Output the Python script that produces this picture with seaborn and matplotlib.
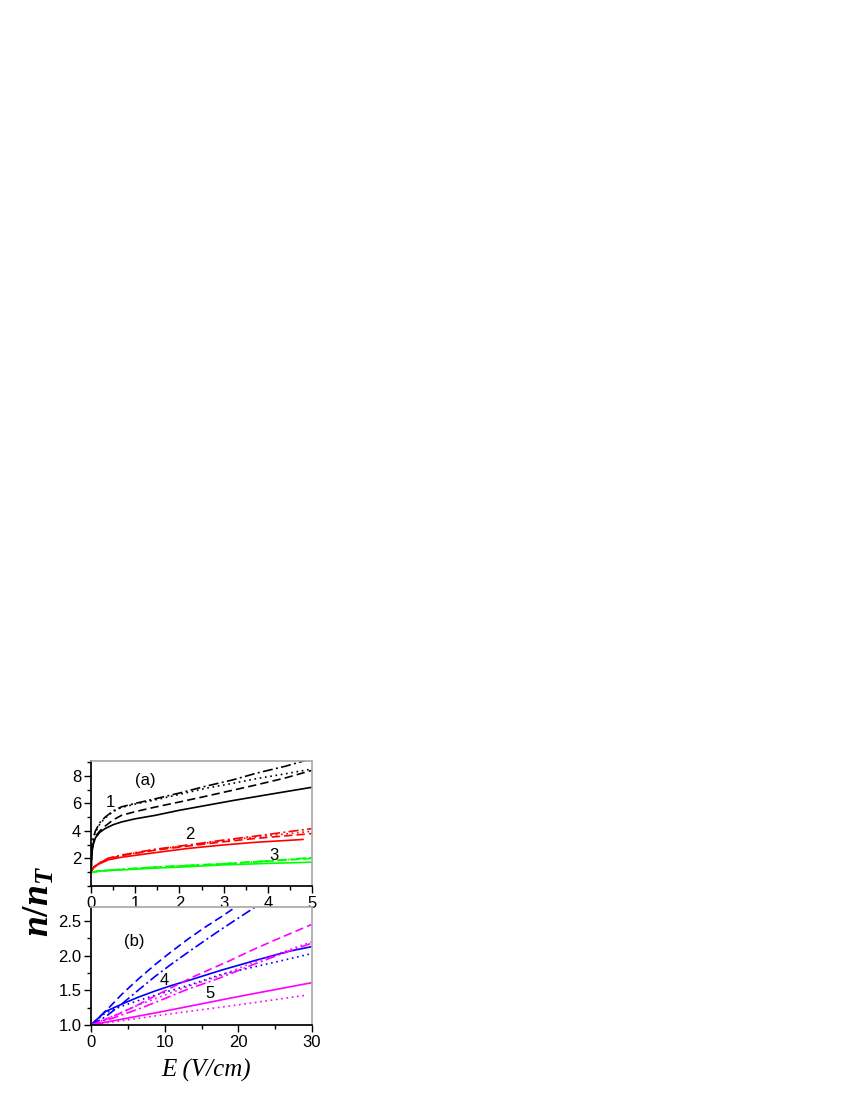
import matplotlib

matplotlib.use("Agg")
import matplotlib.pyplot as plt
import seaborn as sns
from matplotlib.ticker import MultipleLocator

# ---- panel (a): n/n_T vs E, E in 0..5 V/cm ----
a_black_x = [0, 0.02, 0.05, 0.1, 0.2, 0.32, 0.5, 0.69, 1, 1.45, 2, 2.6, 3.2, 3.75, 4.4, 5]
a_black_solid = [1.0, 2.4, 3.0, 3.5, 3.9, 4.17, 4.45, 4.65, 4.88, 5.13, 5.5, 5.85, 6.2, 6.5, 6.85, 7.17]
a_black_dash = [1.0, 2.5, 3.1, 3.6, 4.0, 4.35, 4.8, 5.13, 5.4, 5.73, 6.1, 6.52, 6.95, 7.35, 7.85, 8.4]
a_black_dot = [1.0, 2.7, 3.4, 3.9, 4.5, 4.95, 5.4, 5.7, 5.95, 6.25, 6.65, 7.1, 7.45, 7.8, 8.15, 8.5]
a_black_dashdot = [1.0, 2.8, 3.5, 4.0, 4.6, 5.0, 5.45, 5.75, 6.0, 6.33, 6.75, 7.25, 7.7, 8.2, 8.7, 9.25]

a_red_x = [0, 0.05, 0.17, 0.39, 0.69, 1.45, 2.2, 2.96, 3.71, 4.8]
a_red_solid = [1.0, 1.3, 1.58, 1.9, 2.09, 2.42, 2.73, 2.97, 3.17, 3.38]
a_red2_x = [0, 0.05, 0.17, 0.39, 0.69, 1.45, 2.2, 2.96, 3.71, 5]
a_red_dash = [1.0, 1.32, 1.62, 1.98, 2.2, 2.6, 2.9, 3.2, 3.45, 3.81]
a_red_dot = [1.0, 1.33, 1.64, 2.0, 2.23, 2.64, 2.95, 3.27, 3.55, 3.98]
a_red_dashdot = [1.0, 1.34, 1.65, 2.02, 2.25, 2.67, 2.98, 3.32, 3.62, 4.17]

a_green_x = [0, 0.2, 0.5, 1, 1.45, 2, 2.96, 4, 5]
a_green_solid = [1.0, 1.08, 1.14, 1.22, 1.3, 1.37, 1.53, 1.64, 1.73]
a_green_dash = [1.0, 1.09, 1.16, 1.27, 1.36, 1.45, 1.6, 1.8, 2.0]
a_green_dot = [1.0, 1.09, 1.16, 1.27, 1.36, 1.46, 1.6, 1.81, 2.03]
a_green_dashdot = [1.0, 1.1, 1.17, 1.28, 1.37, 1.47, 1.61, 1.83, 2.06]

# ---- panel (b): n/n_T vs E, E in 0..30 V/cm ----
b_blue_dash_x = [0, 2.35, 4.16, 6.4, 8.7, 10.95, 13.2, 15.5, 17.7, 19.5, 21]
b_blue_dash = [1.0, 1.24, 1.44, 1.66, 1.87, 2.06, 2.24, 2.41, 2.56, 2.69, 2.79]
b_blue_dashdot_x = [0, 2, 4.16, 6.4, 8.7, 10.95, 13.2, 15.5, 17.7, 20, 22.3, 23]
b_blue_dashdot = [1.0, 1.12, 1.3, 1.5, 1.7, 1.88, 2.05, 2.22, 2.38, 2.54, 2.7, 2.74]
b_blue_x = [0, 1, 1.9, 4.16, 6.4, 8.7, 10.95, 13.2, 17.7, 22.3, 26.8, 30]
b_blue_solid = [1.0, 1.1, 1.19, 1.3, 1.4, 1.49, 1.57, 1.64, 1.79, 1.93, 2.06, 2.13]
b_blue_dot = [1.0, 1.09, 1.17, 1.27, 1.35, 1.43, 1.5, 1.57, 1.73, 1.84, 1.95, 2.03]

b_mag_dash_x = [0, 2, 4, 6, 8.7, 11.7, 14, 18.9, 22.3, 26, 30]
b_mag_dash = [1.0, 1.08, 1.17, 1.27, 1.42, 1.58, 1.7, 1.93, 2.1, 2.27, 2.45]
b_mag_x = [0, 3, 6.7, 10, 13, 17.55, 22, 26, 30]
b_mag_dashdot = [1.0, 1.1, 1.24, 1.38, 1.51, 1.68, 1.87, 2.03, 2.18]
b_mag_dot_up = [1.0, 1.13, 1.3, 1.43, 1.55, 1.71, 1.9, 2.05, 2.2]
b_mag_solid_x = [0, 10, 20, 30]
b_mag_solid = [1.0, 1.2, 1.41, 1.61]
b_mag_dot_low_x = [0, 10, 20, 29.3]
b_mag_dot_low = [1.0, 1.15, 1.29, 1.43]

SOLID = "-"
DASH = (0, (5, 2.5))
DOT = (0, (1, 2.2))
DASHDOT = (0, (6, 2, 1.2, 2))


def draw(ax, x, y, color, ls):
    sns.lineplot(x=x, y=y, ax=ax, color=color, linestyle=ls, lw=1.2,
                 sort=False, errorbar=None)


def style_axes(ax):
    for side in ["top", "right"]:
        ax.spines[side].set_color("#aaaaaa")
    for side in ["left", "bottom"]:
        ax.spines[side].set_color("black")
    ax.tick_params(which="major", direction="out", length=5, width=1,
                   labelsize=12, pad=2, color="black", labelcolor="black")
    ax.tick_params(which="minor", direction="out", length=3, width=1,
                   color="black")
    ax.set_xlabel("")
    ax.set_ylabel("")


sns.set_theme(style="ticks")
plt.rcParams["font.family"] = ["Liberation Sans", "DejaVu Sans"]
plt.rcParams["text.color"] = "black"
plt.rcParams["mathtext.fontset"] = "custom"
plt.rcParams["mathtext.it"] = "Liberation Serif:italic:bold"
plt.rcParams["mathtext.rm"] = "Liberation Serif:bold"

fig = plt.figure(figsize=(8.5, 11), dpi=100)
ax_a = fig.add_axes([91 / 850, 1 - 886 / 1100, 221 / 850, 125.3 / 1100])
ax_b = fig.add_axes([91 / 850, 1 - 1025 / 1100, 221 / 850, 118 / 1100])

draw(ax_a, a_black_x, a_black_solid, "black", SOLID)
draw(ax_a, a_black_x, a_black_dash, "black", DASH)
draw(ax_a, a_black_x, a_black_dot, "black", DOT)
draw(ax_a, a_black_x, a_black_dashdot, "black", DASHDOT)
draw(ax_a, a_red_x, a_red_solid, "#ff0000", SOLID)
draw(ax_a, a_red2_x, a_red_dash, "#ff0000", DASH)
draw(ax_a, a_red2_x, a_red_dot, "#ff0000", DOT)
draw(ax_a, a_red2_x, a_red_dashdot, "#ff0000", DASHDOT)
draw(ax_a, a_green_x, a_green_solid, "#00ff00", SOLID)
draw(ax_a, a_green_x, a_green_dash, "#00ff00", DASH)
draw(ax_a, a_green_x, a_green_dot, "#00ff00", DOT)
draw(ax_a, a_green_x, a_green_dashdot, "#00ff00", DASHDOT)

ax_a.set_xlim(0, 5)
ax_a.set_ylim(0, 9.1)
ax_a.xaxis.set_major_locator(MultipleLocator(1))
ax_a.xaxis.set_minor_locator(MultipleLocator(0.5))
ax_a.set_yticks([2, 4, 6, 8])
ax_a.yaxis.set_minor_locator(MultipleLocator(1))
style_axes(ax_a)
ax_a.text(1.22, 7.65, "(a)", fontsize=12, ha="center", va="center")
ax_a.text(0.43, 6.1, "1", fontsize=12, ha="center", va="center")
ax_a.text(2.24, 3.74, "2", fontsize=12, ha="center", va="center")
ax_a.text(4.13, 2.25, "3", fontsize=12, ha="center", va="center")

draw(ax_b, b_blue_dash_x, b_blue_dash, "#0000ff", DASH)
draw(ax_b, b_blue_dashdot_x, b_blue_dashdot, "#0000ff", DASHDOT)
draw(ax_b, b_blue_x, b_blue_solid, "#0000ff", SOLID)
draw(ax_b, b_blue_x, b_blue_dot, "#0000ff", DOT)
draw(ax_b, b_mag_dash_x, b_mag_dash, "#ff00ff", DASH)
draw(ax_b, b_mag_x, b_mag_dashdot, "#ff00ff", DASHDOT)
draw(ax_b, b_mag_x, b_mag_dot_up, "#ff00ff", DOT)
draw(ax_b, b_mag_solid_x, b_mag_solid, "#ff00ff", SOLID)
draw(ax_b, b_mag_dot_low_x, b_mag_dot_low, "#ff00ff", DOT)

ax_b.set_xlim(0, 30)
ax_b.set_ylim(1.0, 2.7)
ax_b.xaxis.set_major_locator(MultipleLocator(10))
ax_b.xaxis.set_minor_locator(MultipleLocator(5))
ax_b.set_yticks([1.0, 1.5, 2.0, 2.5])
ax_b.set_yticklabels(["1.0", "1.5", "2.0", "2.5"])
ax_b.yaxis.set_minor_locator(MultipleLocator(0.25))
style_axes(ax_b)
ax_b.text(5.9, 2.2, "(b)", fontsize=12, ha="center", va="center")
ax_b.text(9.95, 1.64, "4", fontsize=12, ha="center", va="center")
ax_b.text(16.2, 1.45, "5", fontsize=12, ha="center", va="center")

fig.text(206 / 850, 1 - 1070 / 1100, "E (V/cm)", fontsize=18,
         family="Liberation Serif", style="italic", ha="center", va="center")
fig.text(39 / 850, 1 - 901 / 1100, r"$n/n_T$", fontsize=27, rotation=90,
         ha="center", va="center")

fig.savefig("out.png", dpi=100)
